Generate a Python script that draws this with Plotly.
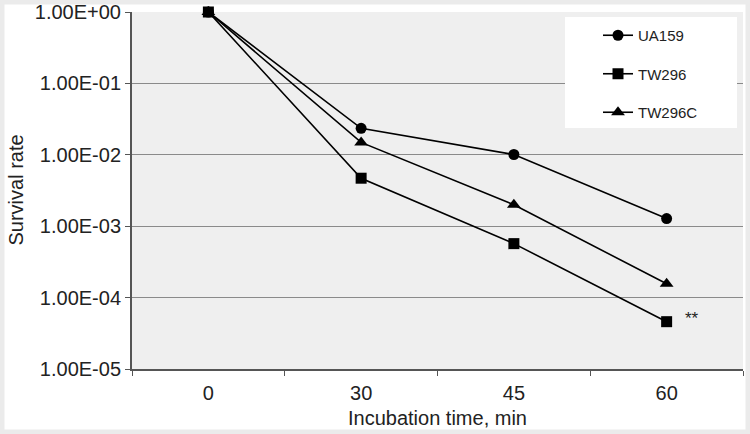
import plotly.graph_objects as go
import math

times = ["0", "30", "45", "60"]
ua159 = [1.0, 0.0235, 0.0101, 0.00128]
tw296 = [1.0, 0.0047, 0.00057, 0.000046]
tw296c = [1.0, 0.0149, 0.0020, 0.000156]
ytick_vals = [1, 1e-1, 1e-2, 1e-3, 1e-4, 1e-5]
ytick_text = ["1.00E+00", "1.00E-01", "1.00E-02", "1.00E-03", "1.00E-04", "1.00E-05"]
x_title = "Incubation time, min"
y_title = "Survival rate"

series = [("UA159", ua159, "circle", 11), ("TW296", tw296, "square", 11), ("TW296C", tw296c, "triangle-up", 12)]

FONT = "Arial, Liberation Sans, sans-serif"
fig = go.Figure()
for i, (name, vals, sym, sz) in enumerate(series):
    fig.add_trace(go.Scatter(
        x=times, y=vals, name=name, mode="lines+markers",
        line=dict(color="black", width=1.6),
        marker=dict(symbol=sym, size=sz, color="black"),
        cliponaxis=False, legendgroup=name,
    ))

fig.add_annotation(x=times.index("60"), y=math.log10(tw296[3]), text="**", showarrow=False,
                   xref="x", yref="y",
                   xshift=25, yshift=3, font=dict(size=17, color="#222", family=FONT))

W, H = 750, 434
L, R, T, B = 132, 7, 12, 65
pw, ph = W - L - R, H - T - B

def px_x(x):
    return (x - L) / pw

def px_y(y):
    return 1 - (y - T) / ph

# axis titles
fig.add_annotation(xref="paper", yref="paper", x=0.5, y=px_y(418), text=x_title,
                   showarrow=False, xanchor="center", yanchor="middle",
                   font=dict(size=20, color="#222", family=FONT))
fig.add_annotation(xref="paper", yref="paper", x=px_x(15), y=0.5, text=y_title, textangle=-90,
                   showarrow=False, xanchor="center", yanchor="middle",
                   font=dict(size=20, color="#222", family=FONT))

# legend box
fig.add_shape(type="rect", xref="paper", yref="paper",
              x0=px_x(565), x1=px_x(737), y0=px_y(128), y1=px_y(17),
              line=dict(width=0), fillcolor="white", layer="above")
# outer frame
fig.add_shape(type="rect", xref="paper", yref="paper",
              x0=px_x(0), x1=px_x(W), y0=px_y(H), y1=px_y(0),
              line=dict(color="#ebebeb", width=9), fillcolor="rgba(0,0,0,0)", layer="above")

fig.update_layout(
    width=W, height=H,
    margin=dict(l=L, r=R, t=T, b=B, autoexpand=False),
    paper_bgcolor="white", plot_bgcolor="#efefef",
    font=dict(family=FONT, size=20, color="#222"),
    legend=dict(x=px_x(598), y=px_y(19), xanchor="left", yanchor="top",
                bgcolor="rgba(0,0,0,0)", font=dict(size=15, color="#222"),
                traceorder="grouped", tracegroupgap=16, itemwidth=30),
    showlegend=True,
)
fig.update_xaxes(
    type="category", tickson="boundaries", ticks="outside", ticklen=5, tickcolor="#555",
    showline=True, linecolor="#555", linewidth=2, showgrid=False, mirror=False,
    ticklabelstandoff=5,
    range=[-0.5, 3.5], automargin=False,
)
fig.update_yaxes(
    type="log", range=[-5, 0], tickvals=ytick_vals, ticktext=ytick_text,
    ticks="outside", ticklen=5, tickcolor="#555",
    showline=True, linecolor="#555", linewidth=2,
    showgrid=True, gridcolor="#8a8a8a", gridwidth=1,
    zeroline=False, automargin=False,
)
fig.write_html("out.html", config={"displayModeBar": False},
               post_script="document.body.style.margin='0';document.body.style.overflow='hidden';")
